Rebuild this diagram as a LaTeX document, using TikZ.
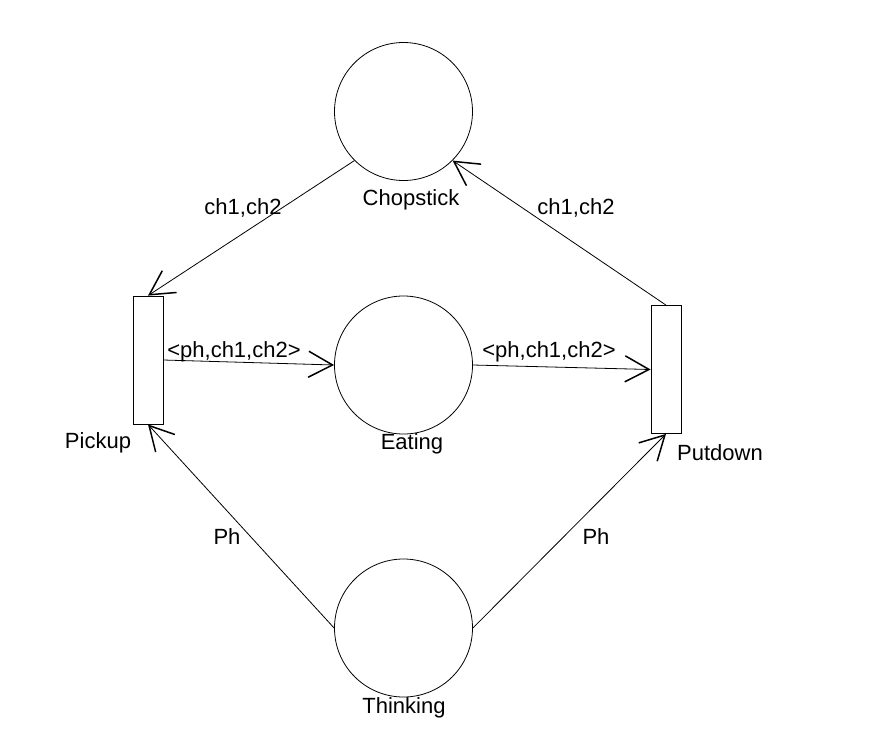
\documentclass[tikz,border=0pt]{standalone}
\usepackage{fontspec}
\setmainfont{Liberation Sans}
\usetikzlibrary{arrows.meta}
\begin{document}
\begin{tikzpicture}[>={Straight Barb[length=24pt,width=26pt,line width=1.5pt]},x=1pt,y=-1pt,
	place/.style={draw,circle,minimum size=138pt,inner sep=0pt,line width=0.8pt},
	trans/.style={draw,rectangle,minimum width=30pt,minimum height=128pt,inner sep=0pt,line width=0.8pt},
	txt/.style={font=\fontsize{22}{26}\selectfont,inner sep=0pt}]
	\useasboundingbox (0,0) rectangle (870,729);
	% places and transitions
	\node[place] (chop) at (403.5,111.5) {};
	\node[place] (eat) at (403.5,365) {};
	\node[place] (think) at (403.5,628) {};
	\node[trans] (pick) at (148,360) {};
	\node[trans] (put) at (666,369.5) {};
	% names
	\node[txt] (choplbl) at (411,200) {Chopstick};
	\node[txt] (eatlbl) at (412,444) {Eating};
	\node[txt] (thinklbl) at (404,708) {Thinking};
	\node[txt] (picklbl) at (98,443) {Pickup};
	\node[txt] (putlbl) at (720,453) {Putdown};
	% arcs
	\draw[line width=0.8pt,->] (chop.-135) -- (pick.north);
	\draw[line width=0.8pt,->] (put.north) -- (chop.-45);
	\draw[line width=0.8pt,->] (pick.east) -- (eat.west);
	\draw[line width=0.8pt,->] (eat.east) -- (put.west);
	\draw[line width=0.8pt,->] (think.west) -- (pick.south);
	\draw[line width=0.8pt,->] (think.east) -- (put.south);
	% arc inscriptions
	\node[txt] (lblcp) at (243,208) {ch1,ch2};
	\node[txt] (lblpc) at (576,208) {ch1,ch2};
	\node[txt] (lblpe) at (234,352) {<ph,ch1,ch2>};
	\node[txt] (lblep) at (549,352) {<ph,ch1,ch2>};
	\node[txt] (lbltp) at (227,537) {Ph};
	\node[txt] (lbltq) at (596,537) {Ph};
\end{tikzpicture}
\end{document}
